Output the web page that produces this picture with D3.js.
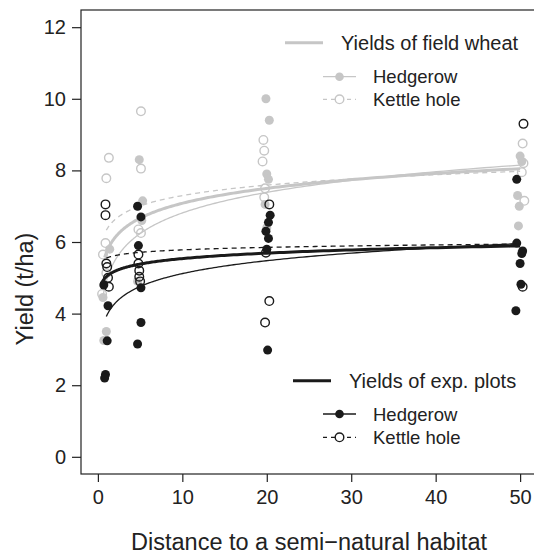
<!DOCTYPE html>
<html><head><meta charset="utf-8">
<script src="https://cdn.jsdelivr.net/npm/d3@7"></script>
<style>body{margin:0;background:#fff}svg{display:block}text{font-family:"Liberation Sans",Arial,sans-serif;fill:#222}</style>
</head><body>
<svg id="c" width="534" height="554"></svg>
<script>
// ---- data ----
const xTicks = [0, 10, 20, 30, 40, 50];
const yTicks = [0, 2, 4, 6, 8, 10, 12];
// Field wheat, hedgerow (grey filled)
const wheatHedgeX = [1.4, 0.6, 1.0, 0.7, 4.9, 5.3, 5.2, 4.7, 19.9, 20.3, 20.0, 20.2, 19.8, 20.0, 50.0, 50.2, 49.7, 49.9, 49.8];
const wheatHedgeY = [5.8, 4.45, 3.5, 3.25, 8.3, 7.15, 6.6, 4.9, 10.0, 9.4, 7.9, 7.75, 7.05, 6.4, 8.4, 8.25, 7.3, 7.0, 6.45];
// Field wheat, kettle hole (grey open)
const wheatKettleX = [1.3, 1.0, 0.9, 0.6, 1.0, 0.5, 5.1, 5.1, 4.8, 5.1, 19.6, 19.7, 19.5, 19.8, 19.7, 50.3, 50.4, 50.2, 50.5];
const wheatKettleY = [8.35, 7.78, 5.97, 5.65, 5.13, 4.55, 9.65, 8.05, 6.35, 6.25, 8.85, 8.55, 8.25, 7.5, 7.25, 8.75, 8.2, 7.95, 7.15];
// Exp. plots, hedgerow (black filled)
const expHedgeX = [0.7, 1.2, 1.1, 0.9, 0.8, 4.7, 5.1, 4.8, 5.1, 5.1, 4.7, 20.4, 20.2, 19.9, 20.2, 20.0, 20.1, 49.6, 49.6, 50.3, 50.2, 50.0, 50.1, 49.5];
const expHedgeY = [4.8, 4.22, 3.24, 2.3, 2.2, 7.0, 6.7, 5.9, 4.72, 3.75, 3.15, 6.75, 6.55, 6.3, 6.1, 5.8, 2.98, 7.75, 5.97, 5.75, 5.68, 5.4, 4.82, 4.08];
// Exp. plots, kettle hole (black open)
const expKettleX = [0.9, 0.9, 1.0, 1.1, 1.2, 1.3, 4.8, 4.8, 4.9, 4.9, 5.0, 20.3, 19.9, 20.3, 19.8, 50.4, 50.3];
const expKettleY = [7.05, 6.75, 5.4, 5.3, 5.0, 4.75, 5.65, 5.4, 5.2, 5.03, 4.9, 7.05, 5.7, 4.35, 3.75, 9.3, 4.75];
// logarithmic fits y = a + b ln(x): [a, b, xStart]
const fitWheatAll = [5.7, 0.6, 0.8];
const fitWheatHedge = [4.9, 0.83, 0.6];
const fitWheatKettle = [6.33, 0.42, 1.0];
const fitExpAll = [5.03, 0.22, 0.4];
const fitExpHedge = [3.92, 0.52, 1.0];
const fitExpKettle = [5.55, 0.1, 1.0];

// ---- layout ----
const GREY = "#c6c6c6", BLACK = "#1a1a1a";
const svg = d3.select("#c");
const x = d3.scaleLinear().domain([-2, 52]).range([81, 537]);
const y = d3.scaleLinear().domain([-0.48, 12.48]).range([474, 10]);

// box
svg.append("rect").attr("x", 81).attr("y", 10).attr("width", 456).attr("height", 464)
  .attr("fill", "none").attr("stroke", "#222").attr("stroke-width", 1.2);

const xa = svg.append("g").attr("transform", "translate(0,474)")
  .call(d3.axisBottom(x).tickValues(xTicks).tickSize(8).tickPadding(8).tickFormat(d3.format("d")));
const ya = svg.append("g").attr("transform", "translate(81,0)")
  .call(d3.axisLeft(y).tickValues(yTicks).tickSize(8).tickPadding(7).tickFormat(d3.format("d")));
[xa, ya].forEach(g => {
  g.select(".domain").remove();
  g.selectAll("line").attr("stroke", "#222").attr("stroke-width", 1.2);
  g.selectAll("text").style("font-size", "20px").style("font-family", "Liberation Sans, Arial, sans-serif").attr("fill", "#222");
});
ya.selectAll("line").attr("x2", -9);
// ensure y axis line covers 0..12 ticks only on the box (box already drawn)

svg.append("text").attr("x", 309).attr("y", 550).attr("text-anchor", "middle")
  .style("font-size", "23.5px").text("Distance to a semi\u2212natural habitat");
svg.append("text").attr("transform", "translate(33,289) rotate(-90)").attr("text-anchor", "middle")
  .style("font-size", "23.5px").text("Yield (t/ha)");

// ---- marks ----
function curve(f, color, width, dash) {
  const xs = d3.range(0, 201).map(i => f[2] * Math.pow(50 / f[2], i / 200));
  const line = d3.line().x(d => x(d)).y(d => y(f[0] + f[1] * Math.log(d))).curve(d3.curveLinear);
  svg.append("path").datum(xs).attr("d", line).attr("fill", "none")
    .attr("stroke", color).attr("stroke-width", width).attr("stroke-dasharray", dash || null);
}
function points(xs, ys, color, filled) {
  svg.append("g").selectAll("circle").data(xs.map((d, i) => [d, ys[i]])).join("circle")
    .attr("cx", d => x(d[0])).attr("cy", d => y(d[1])).attr("r", filled ? 4.5 : 4.3)
    .attr("fill", filled ? color : "none").attr("stroke", color).attr("stroke-width", filled ? 0 : 1.4);
}

points(wheatHedgeX, wheatHedgeY, GREY, true);
points(wheatKettleX, wheatKettleY, GREY, false);
curve(fitWheatHedge, GREY, 1.3);
curve(fitWheatKettle, GREY, 1.3, "5,4");
curve(fitWheatAll, GREY, 3);
points(expHedgeX, expHedgeY, BLACK, true);
points(expKettleX, expKettleY, BLACK, false);
curve(fitExpHedge, BLACK, 1.3);
curve(fitExpKettle, BLACK, 1.3, "5,4");
curve(fitExpAll, BLACK, 3);

// ---- legends ----
function legend(y0, color, title) {
  const g = svg.append("g");
  g.append("line").attr("x1", x.invert ? 0 : 0);
  return g;
}
const legends = [
  {color: GREY, title: "Yields of field wheat", lx1: 285, lx2: 323, tx: 341, ty: 42.7, e1: 76.7, e2: 99.3},
  {color: BLACK, title: "Yields of exp. plots", lx1: 293, lx2: 331, tx: 349, ty: 380.7, e1: 414, e2: 437.3}
];
const entryLabels = ["Hedgerow", "Kettle hole"];
legends.forEach(L => {
  svg.append("line").attr("x1", L.lx1).attr("x2", L.lx2).attr("y1", L.ty).attr("y2", L.ty)
    .attr("stroke", L.color).attr("stroke-width", 3);
  svg.append("text").attr("x", L.tx).attr("y", L.ty + 7).style("font-size", "20px").text(L.title);
  [L.e1, L.e2].forEach((ey, i) => {
    svg.append("line").attr("x1", 323).attr("x2", 356).attr("y1", ey).attr("y2", ey)
      .attr("stroke", L.color).attr("stroke-width", 1.3).attr("stroke-dasharray", i ? "4,4" : null);
    svg.append("circle").attr("cx", 339.5).attr("cy", ey).attr("r", 4.3)
      .attr("fill", i ? "#fff" : L.color).attr("stroke", L.color).attr("stroke-width", i ? 1.4 : 0);
    svg.append("text").attr("x", 373).attr("y", ey + 6.5).style("font-size", "18.5px").text(entryLabels[i]);
  });
});
</script>
</body></html>
